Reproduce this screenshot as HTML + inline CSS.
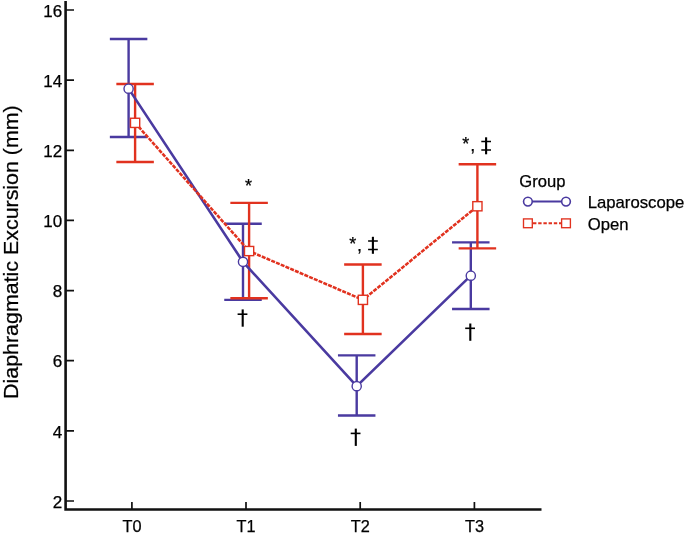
<!DOCTYPE html>
<html>
<head>
<meta charset="utf-8">
<style>
html,body{margin:0;padding:0;background:#fff;}
body{width:685px;height:538px;overflow:hidden;font-family:"Liberation Sans",sans-serif;}
svg{display:block;will-change:transform;}
text{font-family:"Liberation Sans",sans-serif;fill:#000;stroke:#000;stroke-width:0.25px;}
</style>
</head>
<body>
<svg width="685" height="538" viewBox="0 0 685 538">
<rect x="0" y="0" width="685" height="538" fill="#ffffff"/>

<!-- axes -->
<g stroke="#111" fill="none">
  <path d="M65.6 1 V509.45 H541.5" stroke-width="2.6" stroke-linejoin="miter"/>
  <g stroke-width="1.7">
    <path d="M66 501.00 H74 M66 430.86 H74 M66 360.72 H74 M66 290.58 H74 M66 220.44 H74 M66 150.30 H74 M66 80.16 H74 M66 10.02 H74"/>
    <path d="M131.9 502 V509 M246.0 502 V509 M360.2 502 V509 M474.4 502 V509"/>
  </g>
</g>

<!-- y tick labels -->
<g font-size="16.3" text-anchor="end">
  <text x="62.2" y="16.77" textLength="18.9" lengthAdjust="spacingAndGlyphs">16</text>
  <text x="62.2" y="86.91" textLength="18.9" lengthAdjust="spacingAndGlyphs">14</text>
  <text x="62.2" y="157.05" textLength="18.9" lengthAdjust="spacingAndGlyphs">12</text>
  <text x="62.2" y="227.19" textLength="18.9" lengthAdjust="spacingAndGlyphs">10</text>
  <text x="62.2" y="297.33" textLength="9.5" lengthAdjust="spacingAndGlyphs">8</text>
  <text x="62.2" y="367.47" textLength="9.5" lengthAdjust="spacingAndGlyphs">6</text>
  <text x="62.2" y="437.61" textLength="9.5" lengthAdjust="spacingAndGlyphs">4</text>
  <text x="62.2" y="507.75" textLength="9.5" lengthAdjust="spacingAndGlyphs">2</text>
</g>
<!-- x tick labels -->
<g font-size="16.3" text-anchor="middle">
  <text x="132.0" y="532.2">T0</text>
  <text x="246.1" y="532.2">T1</text>
  <text x="360.3" y="532.2">T2</text>
  <text x="474.5" y="532.2">T3</text>
</g>

<!-- y axis title -->
<text font-size="21.1" text-anchor="middle" textLength="293.7" lengthAdjust="spacingAndGlyphs" transform="translate(18.0,252.1) rotate(-90)">Diaphragmatic Excursion (mm)</text>

<g transform="translate(0.3,0.35)">
<!-- blue series -->
<g stroke="#4a3aa0" fill="none" stroke-width="2.4">
  <path d="M128.30 38.70 V136.70 M109.55 38.70 H147.05 M109.55 136.70 H147.05"/>
  <path d="M242.70 223.40 V299.50 M223.95 223.40 H261.45 M223.95 299.50 H261.45"/>
  <path d="M356.40 355.00 V415.20 M337.65 355.00 H375.15 M337.65 415.20 H375.15"/>
  <path d="M470.50 242.00 V308.70 M451.75 242.00 H489.25 M451.75 308.70 H489.25"/>
</g>
<!-- red series -->
<g stroke="#e1321f" fill="none" stroke-width="2.4">
  <path d="M134.80 83.60 V161.70 M116.05 83.60 H153.55 M116.05 161.70 H153.55"/>
  <path d="M248.80 202.50 V297.90 M230.05 202.50 H267.55 M230.05 297.90 H267.55"/>
  <path d="M362.60 264.20 V333.70 M343.85 264.20 H381.35 M343.85 333.70 H381.35"/>
  <path d="M477.10 163.90 V248.00 M458.35 163.90 H495.85 M458.35 248.00 H495.85"/>
</g>
<path d="M128.30 88.30 L242.70 261.50 L356.40 385.80 L470.50 275.30" stroke="#4a3aa0" fill="none" stroke-width="2.6"/>
<path d="M134.80 122.50 L248.80 250.70 L362.60 299.50 L477.10 205.90" stroke="#e1321f" fill="none" stroke-dasharray="4 1.15" stroke-width="2.55"/>
<!-- markers -->
<g fill="#fff" stroke="#4a3aa0" stroke-width="1.4">
  <circle cx="128.30" cy="88.30" r="4.6"/>
  <circle cx="242.70" cy="261.50" r="4.6"/>
  <circle cx="356.40" cy="385.80" r="4.6"/>
  <circle cx="470.50" cy="275.30" r="4.6"/>
</g>
<g fill="#fff" stroke="#e1321f" stroke-width="1.4">
  <rect x="130.20" y="117.90" width="9.2" height="9.2"/>
  <rect x="244.20" y="246.10" width="9.2" height="9.2"/>
  <rect x="358.00" y="294.90" width="9.2" height="9.2"/>
  <rect x="472.50" y="201.30" width="9.2" height="9.2"/>
</g>
</g>

<!-- annotations -->
<g font-size="18" text-anchor="middle">
  <text x="248.5" y="192.2">*</text>
  <text x="352.7" y="249.6">*</text>
  <text x="465.8" y="150.3">*</text>
  <text x="359.5" y="250.5">,</text>
  <text x="472.8" y="150.8">,</text>
</g>
<g stroke="#000" fill="none">
  <path d="M372.90 236.80 V253.80" stroke-width="2.1"/><path d="M368.10 241.00 H377.80 M368.10 249.50 H377.80" stroke-width="1.6"/>
  <path d="M486.10 137.30 V154.30" stroke-width="2.1"/><path d="M481.30 141.50 H491.00 M481.30 150.00 H491.00" stroke-width="1.6"/>
  <path d="M242.70 309.40 V326.70" stroke-width="2.1"/><path d="M237.60 314.20 H247.40" stroke-width="1.6"/>
  <path d="M355.80 428.60 V445.90" stroke-width="2.1"/><path d="M350.70 433.40 H360.50" stroke-width="1.6"/>
  <path d="M470.30 323.50 V340.80" stroke-width="2.1"/><path d="M465.20 328.30 H475.00" stroke-width="1.6"/>
</g>

<!-- legend -->
<g font-size="16.4">
  <text x="519.3" y="186.5" textLength="46.1" lengthAdjust="spacingAndGlyphs">Group</text>
  <text x="587.7" y="208" textLength="96.6" lengthAdjust="spacingAndGlyphs">Laparoscope</text>
  <text x="587.8" y="229.8" textLength="40.8" lengthAdjust="spacingAndGlyphs">Open</text>
</g>
<g fill="#fff" stroke="#4a3aa0" stroke-width="1.6">
  <path d="M528 201.6 H566" stroke-width="2"/>
  <circle cx="527.9" cy="201.6" r="4.35"/>
  <circle cx="566" cy="201.6" r="4.35"/>
</g>
<g fill="#fff" stroke="#e1321f" stroke-width="1.35">
  <path d="M527.8 223.3 H566" stroke-dasharray="3.4 1.8" stroke-width="2.1"/>
  <rect x="523.5" y="218.9" width="8.8" height="8.8"/>
  <rect x="561.6" y="218.9" width="8.8" height="8.8"/>
</g>
</svg>
</body>
</html>
